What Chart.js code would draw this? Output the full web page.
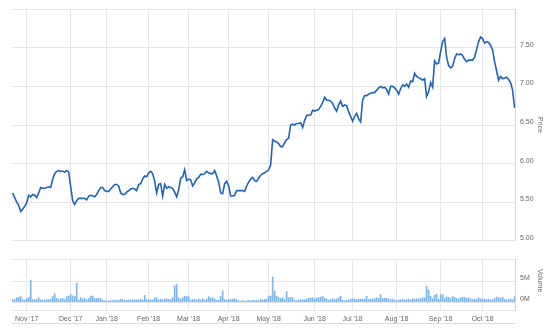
<!DOCTYPE html>
<html>
<head>
<meta charset="utf-8">
<script src="https://cdn.jsdelivr.net/npm/chart.js@4.4.1/dist/chart.umd.min.js"></script>
<style>
  html, body { margin: 0; padding: 0; background: #ffffff; }
  #wrap { position: relative; width: 550px; height: 332px; overflow: hidden; }
  #price { position: absolute; left: 0; top: 0; }
  #volume { position: absolute; left: 0; top: 250px; }
</style>
</head>
<body>
<div id="wrap">
  <canvas id="price" width="550" height="250"></canvas>
  <canvas id="volume" width="550" height="82"></canvas>
</div>
<script>
// Trading-day index of the first session of each month, and its label
const monthTicks = [7, 29, 47, 68, 88, 108, 128, 151, 170, 192, 214, 235];
const monthLabels = ["Nov '17", "Dec '17", "Jan '18", "Feb '18", "Mar '18", "Apr '18",
                     "May '18", "Jun '18", "Jul '18", "Aug '18", "Sep '18", "Oct '18"];

// Price axis ticks (top one unlabelled) and volume axis ticks (millions)
const priceTicks = [5.00, 5.50, 6.00, 6.50, 7.00, 7.50, 8.00];
const volumeTicks = [0, 5];

// Daily closing price, one value per trading day
const prices = [
  5.62, 5.56, 5.50, 5.46, 5.38, 5.41, 5.45, 5.49, 5.59, 5.57,
  5.60, 5.59, 5.56, 5.62, 5.69, 5.68, 5.68, 5.69, 5.70, 5.69,
  5.80, 5.87, 5.90, 5.91, 5.90, 5.90, 5.89, 5.91, 5.89, 5.70,
  5.52, 5.47, 5.52, 5.55, 5.55, 5.55, 5.55, 5.53, 5.58, 5.59,
  5.58, 5.57, 5.60, 5.65, 5.69, 5.69, 5.65, 5.64, 5.64, 5.67,
  5.70, 5.73, 5.73, 5.71, 5.62, 5.60, 5.60, 5.63, 5.65, 5.67,
  5.68, 5.67, 5.65, 5.73, 5.74, 5.80, 5.84, 5.83, 5.88, 5.90,
  5.87, 5.77, 5.62, 5.73, 5.74, 5.58, 5.73, 5.68, 5.70, 5.69,
  5.68, 5.63, 5.57, 5.66, 5.81, 5.83, 5.92, 5.78, 5.80, 5.79,
  5.71, 5.75, 5.80, 5.82, 5.86, 5.86, 5.87, 5.90, 5.88, 5.87,
  5.87, 5.91, 5.84, 5.76, 5.62, 5.61, 5.74, 5.77, 5.71, 5.58,
  5.58, 5.59, 5.65, 5.65, 5.65, 5.65, 5.64, 5.71, 5.76, 5.80,
  5.82, 5.78, 5.77, 5.81, 5.85, 5.87, 5.88, 5.90, 5.92, 5.98,
  6.31, 6.29, 6.28, 6.26, 6.22, 6.22, 6.27, 6.31, 6.33, 6.50,
  6.51, 6.50, 6.52, 6.52, 6.53, 6.47, 6.56, 6.62, 6.63, 6.63,
  6.69, 6.68, 6.69, 6.70, 6.74, 6.79, 6.86, 6.82, 6.82, 6.81,
  6.78, 6.72, 6.68, 6.76, 6.81, 6.74, 6.76, 6.75, 6.67, 6.61,
  6.55, 6.61, 6.65, 6.58, 6.54, 6.82, 6.88, 6.88, 6.90, 6.91,
  6.92, 6.92, 6.95, 6.98, 7.00, 6.98, 6.99, 6.96, 6.90, 7.00,
  7.00, 6.98, 6.95, 6.90, 6.97, 7.02, 7.00, 7.03, 6.99, 7.07,
  7.06, 7.17, 7.13, 7.11, 7.10, 7.08, 7.10, 6.87, 6.93, 7.05,
  6.99, 7.33, 7.29, 7.30, 7.45, 7.58, 7.62, 7.38, 7.27, 7.24,
  7.26, 7.36, 7.42, 7.41, 7.42, 7.40, 7.35, 7.32, 7.34, 7.34,
  7.34, 7.38, 7.48, 7.58, 7.64, 7.62, 7.56, 7.58, 7.57, 7.53,
  7.47, 7.32, 7.20, 7.08, 7.13, 7.10, 7.11, 7.12, 7.09, 7.05,
  6.95, 6.72
];

// Daily traded volume, millions of shares
const volumes = [
  0.6, 0.6, 1.0, 1.15, 1.3, 0.6, 0.5, 0.85, 1.15, 5.3,
  0.6, 0.6, 0.6, 1.1, 0.55, 0.5, 0.5, 0.6, 0.55, 0.7,
  1.3, 2.0, 0.9, 0.6, 0.7, 0.85, 0.6, 1.3, 1.4, 1.8,
  1.5, 1.3, 4.5, 0.5, 1.1, 0.7, 0.9, 0.5, 0.9, 1.45,
  1.45, 0.85, 0.9, 0.85, 0.85, 0.4, 0.3, 0.25, 0.25, 0.35,
  0.35, 0.5, 0.3, 0.5, 0.7, 0.6, 0.45, 0.42, 0.5, 0.5,
  0.55, 0.5, 0.55, 0.55, 0.7, 0.5, 1.6, 0.6, 0.55, 0.55,
  0.5, 1.05, 1.05, 0.5, 0.7, 0.55, 0.7, 0.8, 0.65, 0.55,
  1.0, 3.9, 4.2, 1.0, 0.7, 1.1, 1.45, 1.3, 1.3, 0.5,
  0.6, 0.65, 0.5, 0.7, 0.5, 0.85, 0.4, 0.7, 1.3, 0.9,
  1.0, 0.7, 0.45, 0.5, 1.3, 2.7, 0.6, 0.5, 0.55, 0.6,
  0.7, 0.8, 0.6, 0.3, 0.2, 0.35, 0.2, 0.3, 0.35, 0.28,
  0.4, 0.35, 0.35, 0.28, 0.65, 0.5, 0.58, 0.7, 1.45, 1.45,
  6.0, 2.7, 1.45, 1.1, 0.9, 1.0, 0.6, 2.5, 1.1, 1.15,
  1.1, 0.45, 0.3, 0.5, 0.6, 0.55, 0.55, 0.7, 0.9, 0.95,
  1.1, 0.75, 1.0, 1.1, 1.15, 1.4, 0.9, 0.7, 0.5, 0.6,
  0.85, 0.6, 0.7, 1.0, 1.45, 0.4, 0.3, 0.45, 0.5, 0.7,
  0.7, 0.7, 0.6, 0.65, 0.8, 0.65, 0.7, 1.4, 0.6, 0.7,
  0.7, 0.85, 1.0, 0.9, 1.8, 0.85, 0.9, 0.9, 0.75, 0.55,
  0.7, 0.5, 0.35, 0.5, 0.55, 0.7, 0.5, 0.6, 0.7, 0.5,
  0.85, 0.65, 0.8, 0.7, 0.85, 1.0, 1.05, 3.8, 2.9, 1.45,
  0.85, 1.6, 1.9, 0.7, 1.8, 1.8, 0.85, 1.25, 1.15, 0.85,
  1.3, 1.15, 0.9, 0.7, 1.0, 1.15, 1.15, 0.9, 1.0, 0.7,
  0.6, 0.7, 0.6, 1.0, 0.7, 0.8, 0.75, 0.6, 0.7, 0.55,
  0.6, 0.9, 1.2, 1.05, 0.85, 1.15, 0.65, 0.55, 0.6, 0.7,
  0.55, 1.3
];

const gridColor = '#e6e6e6';
const axisColor = '#ccd6eb';
const textColor = '#666666';
const lineColor = '#1f63bd';
const barColor = '#7cb5ec';

// Visible index range of the shared time axis, and the volume pane range
const xMin = -0.35, xMax = 251.2;
const volMin = -1.89, volMax = 10.27;

Chart.defaults.font.family = "'Liberation Sans', Arial, sans-serif";
Chart.defaults.font.size = 7;
Chart.defaults.color = textColor;

// Rotated axis title on the right-hand side of each pane
const sideTitle = {
  id: 'sideTitle',
  afterDraw(chart, args, opts) {
    const s = chart.scales.y;
    const ctx = chart.ctx;
    const y = (s.getPixelForValue(opts.from) + chart.chartArea.top) / 2;
    ctx.save();
    ctx.translate(opts.x, y);
    ctx.rotate(Math.PI / 2);
    ctx.font = "7px 'Liberation Sans', Arial, sans-serif";
    ctx.fillStyle = textColor;
    ctx.textAlign = 'center';
    ctx.textBaseline = 'middle';
    ctx.fillText(opts.text, 0, 0);
    ctx.restore();
  }
};

// Thin rule under the month labels
const bottomRule = {
  id: 'bottomRule',
  afterDraw(chart, args, opts) {
    const { left, right } = chart.chartArea;
    const ctx = chart.ctx;
    ctx.save();
    ctx.strokeStyle = opts.color;
    ctx.lineWidth = 1;
    ctx.beginPath();
    ctx.moveTo(left, opts.y);
    ctx.lineTo(right, opts.y);
    ctx.stroke();
    ctx.restore();
  }
};

function timeAxis(showLabels) {
  return {
    type: 'linear',
    min: xMin,
    max: xMax,
    offset: false,
    afterBuildTicks: s => { s.ticks = monthTicks.map(v => ({ value: v })); },
    grid: { color: gridColor, drawTicks: false, offset: false },
    border: { display: false },
    ticks: {
      display: showLabels,
      autoSkip: false,
      maxRotation: 0,
      padding: 5,
      callback: v => { const k = monthTicks.indexOf(v); return k >= 0 ? monthLabels[k] : ''; }
    },
    afterFit: s => { s.height = showLabels ? 22 : 0; }
  };
}

new Chart(document.getElementById('price'), {
  type: 'line',
  data: {
    datasets: [{
      data: prices.map((p, i) => ({ x: i, y: p })),
      borderColor: lineColor,
      borderWidth: 1.6,
      pointRadius: 0,
      tension: 0,
      fill: false
    }]
  },
  options: {
    responsive: false,
    animation: false,
    devicePixelRatio: 1,
    layout: { padding: { left: 12, top: 4, right: 0, bottom: 1 } },
    plugins: {
      legend: { display: false },
      tooltip: { enabled: false },
      sideTitle: { text: 'Price', x: 540, from: 5 }
    },
    scales: {
      x: timeAxis(false),
      y: {
        position: 'right',
        min: 5,
        max: 8,
        afterBuildTicks: s => { s.ticks = priceTicks.map(v => ({ value: v })); },
        grid: { color: gridColor, drawTicks: false },
        border: { display: true, color: axisColor },
        ticks: {
          padding: 5,
          labelOffset: -3,
          callback: v => v === priceTicks[priceTicks.length - 1] ? '' : v.toFixed(2)
        },
        afterFit: s => { s.width = 35; }
      }
    }
  },
  plugins: [sideTitle]
});

new Chart(document.getElementById('volume'), {
  type: 'bar',
  data: {
    datasets: [{
      data: volumes.map((v, i) => ({ x: i, y: v })),
      backgroundColor: barColor,
      borderWidth: 0,
      barThickness: 1
    }]
  },
  options: {
    responsive: false,
    animation: false,
    devicePixelRatio: 1,
    layout: { padding: { left: 12, top: 6, right: 0, bottom: 0 } },
    plugins: {
      legend: { display: false },
      tooltip: { enabled: false },
      sideTitle: { text: 'Volume', x: 540, from: 0 },
      bottomRule: { y: 73.5, color: '#d6dce6' }
    },
    scales: {
      x: timeAxis(true),
      y: {
        position: 'right',
        min: volMin,
        max: volMax,
        afterBuildTicks: s => { s.ticks = [volMin, ...volumeTicks, volMax].map(v => ({ value: v })); },
        grid: { color: gridColor, drawTicks: false },
        border: { display: true, color: axisColor },
        ticks: {
          padding: 5,
          labelOffset: -3,
          callback: v => volumeTicks.includes(v) ? v + 'M' : ''
        },
        afterFit: s => { s.width = 35; }
      }
    }
  },
  plugins: [sideTitle, bottomRule]
});
</script>
</body>
</html>
